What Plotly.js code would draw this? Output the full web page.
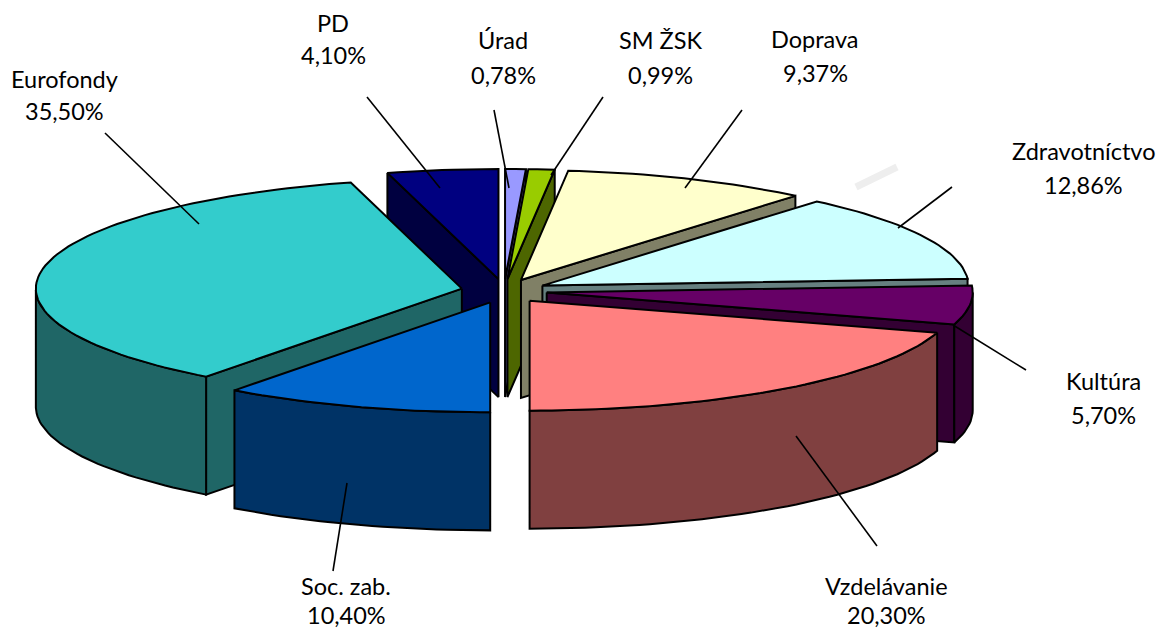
<!DOCTYPE html>
<html>
<head>
<meta charset="utf-8">
<script src="https://cdn.plot.ly/plotly-3.0.1.min.js"></script>
<style>html,body{margin:0;padding:0;background:#fff}#c{width:1158px;height:631px}</style>
</head>
<body>
<div id="c"></div>
<script>
// Data, clockwise from 12 o'clock
const categories = ["Úrad","SM ŽSK","Doprava","Zdravotníctvo","Kultúra","Vzdelávanie","Soc. zab.","Eurofondy","PD"];
const shares = [0.78,0.99,9.37,12.86,5.70,20.30,10.40,35.50,4.10];
const topColors = ["#9999FF","#99CC00","#FFFFCC","#CCFFFF","#660066","#FF8080","#0066CC","#33CCCC","#000080"];
const sideColors = ["#4D4D80","#4D6600","#808066","#668080","#330033","#804040","#003366","#1F6666","#000040"];
// Painter's order (indices into categories), back to front
const drawOrder = [8,0,1,2,3,4,7,6,5];

// Projection of the tilted pie onto the page
const CX=504, CY=291, RX=426, RY=110, DEPTH=118, EXPLODE_X=43, EXPLODE_Y=12, WARP=0.7;
// small perspective correction on the left half of the ellipse
const warp = d => (d>180 && d<360) ? -WARP*Math.sqrt(Math.sin((d-180)*Math.PI/180)) : 0;
const rad = d => (d+warp(d))*Math.PI/180;
const total = shares.reduce((a,b)=>a+b,0);
let acc=0;
const slices = shares.map(v=>{const a0=acc/total*360; acc+=v; const a1=acc/total*360; const m=(a0+a1)/2*Math.PI/180;
  return {a0,a1,ax:CX+EXPLODE_X*Math.sin(m),ay:CY-EXPLODE_Y*Math.cos(m)};});

const traces=[];
function poly(xs,ys,fill){
  traces.push({type:"scatter",mode:"lines",x:xs.concat(xs[0]),y:ys.concat(ys[0]),fill:"toself",fillcolor:fill,
    line:{color:"#000",width:2,shape:"linear"},hoverinfo:"skip",showlegend:false});
}
function rim(s,a){return [s.ax+RX*Math.sin(rad(a)),s.ay-RY*Math.cos(rad(a))];}
function radialWall(s,a,col){
  const p=rim(s,a);
  poly([s.ax,p[0],p[0],s.ax],[s.ay,p[1],p[1]+DEPTH,s.ay+DEPTH],col);
}
function arc(s,from,to){const n=Math.max(2,Math.ceil(Math.abs(to-from)/1.5));const out=[];
  for(let i=0;i<=n;i++)out.push(rim(s,from+(to-from)*i/n));return out;}

drawOrder.forEach(i=>{
  const s=slices[i];
  const sn=d=>Math.sin(d*Math.PI/180);
  if(-sn(s.a0)>1e-2) radialWall(s,s.a0,sideColors[i]);
  if(sn(s.a1)>1e-2) radialWall(s,s.a1,sideColors[i]);
  const f=Math.max(s.a0,90), t=Math.min(s.a1,270);
  if(t>f){
    const a=arc(s,f,t);
    const xs=a.map(p=>p[0]).concat(a.slice().reverse().map(p=>p[0]));
    const ys=a.map(p=>p[1]).concat(a.slice().reverse().map(p=>p[1]+DEPTH));
    poly(xs,ys,sideColors[i]);
  }
  const a=arc(s,s.a0,s.a1);
  poly([s.ax].concat(a.map(p=>p[0])),[s.ay].concat(a.map(p=>p[1])),topColors[i]);
});

// Leader lines and label anchors (layout only)
const leaders=[[494,110,509,188],[603,97,551,175],[742,110,685,188],[952,187,898,228],[1026,370,953,325],[877,546,796,436],[333,571,347,483],[105,133,199,224],[367,97,440,188]];
const labelPos=[[503,40,75],[660,40,75],[815,39,73],[1083,151,185],[1103,381,415],[886,586,615],[346,586,615],[64,79,111],[333,23,55]];
leaders.forEach(l=>traces.push({type:"scatter",mode:"lines",x:[l[0],l[2]],y:[l[1],l[3]],line:{color:"#000",width:1.6},hoverinfo:"skip",showlegend:false}));
traces.push({type:"scatter",mode:"lines",x:[856,897],y:[187,167],line:{color:"#EEEEEE",width:7},hoverinfo:"skip",showlegend:false});

const font={family:"Lato, Carlito, sans-serif",size:23.5,color:"#000"};
const annotations=[];
categories.forEach((c,i)=>{
  const p=labelPos[i];
  annotations.push({x:p[0],y:p[1],xref:"x",yref:"y",text:c,showarrow:false,font,xanchor:"center",yanchor:"middle"});
  annotations.push({x:p[0],y:p[2],xref:"x",yref:"y",text:shares[i].toFixed(2).replace(".",",")+"%",showarrow:false,font,xanchor:"center",yanchor:"middle"});
});

Plotly.newPlot("c",traces,{
  width:1158,height:631,margin:{l:0,r:0,t:0,b:0},paper_bgcolor:"#fff",plot_bgcolor:"#fff",showlegend:false,
  xaxis:{range:[0,1158],visible:false,fixedrange:true},
  yaxis:{range:[631,0],visible:false,fixedrange:true},
  annotations
},{displayModeBar:false,staticPlot:true});
</script>
</body>
</html>
